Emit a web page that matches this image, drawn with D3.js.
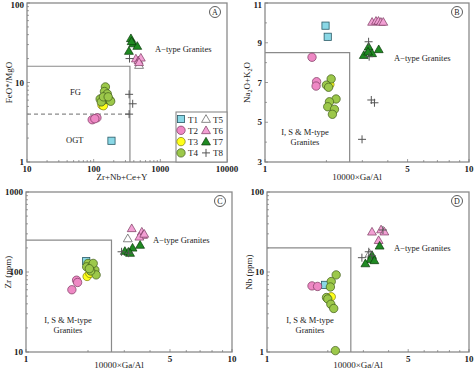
<!DOCTYPE html>
<html>
<head>
<meta charset="utf-8">
<script src="https://cdn.jsdelivr.net/npm/d3@7"></script>
<style>
  body { margin: 0; background: #fff; }
  svg text { font-family: "Liberation Serif", "DejaVu Serif", serif; fill: #222; }
</style>
</head>
<body>
<script>
// Panel A : Zr+Nb+Ce+Y vs FeO*/MgO
const A_T1 = [[185, 1.85]]
const A_T2 = [[95, 3.4], [112, 3.6], [104, 3.5]]
const A_T3 = [[133, 5.2], [140, 5.1]]
const A_T4 = [[150, 8.8], [145, 7.7], [160, 7.2], [125, 6.2], [148, 6.1], [175, 6.0], [130, 5.7], [180, 5.8], [140, 6.6], [165, 6.6]]
const A_T5 = [[480, 16.6]]
const A_T6 = [[430, 20], [470, 19], [510, 20.5], [480, 18]]
const A_T7 = [[362, 36], [393, 31], [451, 28.8], [338, 24.9], [371, 33]]
const A_T8 = [[345, 20], [340, 7.1], [385, 5.4], [340, 4.0]]

// Panel B : 10000*Ga/Al vs Na2O+K2O
const B_T1 = [[1.98, 9.86], [2.03, 9.3]]
const B_T2 = [[1.70, 8.27], [1.79, 7.04], [1.78, 6.82]]
const B_T3 = [[2.08, 6.9]]
const B_T4 = [[2.11, 7.18], [2.0, 6.87], [2.05, 6.76], [2.23, 6.17], [2.07, 6.03], [2.03, 5.78], [2.19, 5.65], [2.14, 5.4]]
const B_T5 = [[3.21, 8.57]]
const B_T6 = [[3.35, 10.05], [3.5, 10.1], [3.6, 10.1], [3.7, 10.05], [3.8, 10.05]]
const B_T7 = [[3.05, 8.38], [3.22, 8.8], [3.35, 8.47], [3.61, 8.67], [3.2, 8.55]]
const B_T8 = [[3.22, 9.05], [3.24, 8.3], [3.32, 6.12], [3.44, 5.98], [2.99, 4.14]]

// Panel C : 10000*Ga/Al vs Zr
const C_T1 = [[1.96, 137]]
const C_T2 = [[1.76, 79], [1.78, 74], [1.67, 60]]
const C_T3 = [[1.98, 88], [2.04, 96]]
const C_T4 = [[2.0, 128], [1.97, 116], [2.08, 116], [2.16, 106], [2.19, 92], [2.06, 103], [2.12, 128], [2.03, 110]]
const C_T5 = [[3.12, 263]]
const C_T6 = [[3.26, 352], [3.65, 319], [3.7, 290], [3.55, 276], [3.75, 300]]
const C_T7 = [[3.58, 218], [3.29, 201], [3.02, 183], [3.14, 179], [3.2, 173]]
const C_T8 = [[2.91, 179], [3.15, 172]]

// Panel D : 10000*Ga/Al vs Nb
const D_T1 = [[1.94, 6.9]]
const D_T2 = [[1.67, 6.7], [1.78, 6.6]]
const D_T3 = [[2.08, 4.9]]
const D_T4 = [[2.2, 9.2], [2.08, 7.6], [2.06, 6.5], [1.97, 4.8], [2.0, 4.6], [2.07, 3.95], [2.14, 3.5], [2.18, 1.04]]
const D_T5 = [[3.22, 17]]
const D_T6 = [[3.31, 31.9], [3.67, 34], [3.81, 32], [3.57, 25]]
const D_T7 = [[3.61, 21.3], [3.31, 16.3], [3.25, 14.5], [3.4, 14], [3.07, 12.8]]
const D_T8 = [[3.75, 33.5], [3.19, 17.9], [2.95, 15.1], [3.3, 16]]

const groups = ["T1", "T2", "T3", "T4", "T5", "T6", "T7", "T8"]

// styles des symboles
const styles = {
  T1: { shape: "square", fill: "#8ad8e6", stroke: "#2a5a66" },
  T2: { shape: "circle", fill: "#ee88c4", stroke: "#7a3a5e" },
  T3: { shape: "circle", fill: "#ffff1a", stroke: "#7a7a10" },
  T4: { shape: "circle", fill: "#9cc84a", stroke: "#3f5a1a" },
  T5: { shape: "triangle", fill: "#ffffff", stroke: "#555" },
  T6: { shape: "triangle", fill: "#f2a0d4", stroke: "#7a3a5e" },
  T7: { shape: "triangle", fill: "#1f8a22", stroke: "#0c3a0c" },
  T8: { shape: "plus", fill: "none", stroke: "#555" }
}

const svg = d3.select("body")
  .append("svg")
  .attr("width", 474)
  .attr("height", 371)

function drawSymbol(g, key, x, y) {
  const s = styles[key]
  if (s.shape === "circle") {
    g.append("circle").attr("cx", x).attr("cy", y).attr("r", 4.2)
      .attr("fill", s.fill).attr("stroke", s.stroke).attr("stroke-width", 0.7)
  } else if (s.shape === "square") {
    g.append("rect").attr("x", x - 3.6).attr("y", y - 3.6).attr("width", 7.2).attr("height", 7.2)
      .attr("fill", s.fill).attr("stroke", s.stroke).attr("stroke-width", 0.8)
  } else if (s.shape === "triangle") {
    g.append("path").attr("d", d3.symbol().type(d3.symbolTriangle).size(34)())
      .attr("transform", `translate(${x},${y + 0.8})`)
      .attr("fill", s.fill).attr("stroke", s.stroke).attr("stroke-width", 0.7)
  } else {
    g.append("path").attr("d", `M${x - 4},${y}H${x + 4}M${x},${y - 4}V${y + 4}`)
      .attr("stroke", s.stroke).attr("stroke-width", 1)
  }
}

function panel(cfg) {
  const g = svg.append("g")
  const x = d3.scaleLog().domain(cfg.xDomain).range([cfg.left, cfg.right])
  const y = (cfg.yLinear ? d3.scaleLinear() : d3.scaleLog()).domain(cfg.yDomain).range([cfg.bottom, cfg.top])

  // cadre
  g.append("rect")
    .attr("x", cfg.left).attr("y", cfg.top)
    .attr("width", cfg.right - cfg.left).attr("height", cfg.bottom - cfg.top)
    .attr("fill", "none").attr("stroke", "#8a8a8a").attr("stroke-width", 1.3)

  // ticks axe x (vers l'intérieur)
  x.ticks().forEach(t => {
    const major = cfg.xLabels.includes(t) || Math.abs(Math.log10(t) % 1) < 1e-9
    g.append("line").attr("x1", x(t)).attr("x2", x(t))
      .attr("y1", cfg.bottom).attr("y2", cfg.bottom - (major ? 3 : 2))
      .attr("stroke", "#777").attr("stroke-width", 0.7)
  })
  cfg.xLabels.forEach(t => {
    g.append("text").attr("x", x(t)).attr("y", cfg.bottom + 10)
      .attr("text-anchor", "middle").attr("font-size", 9).attr("font-weight", "bold").text(t)
  })

  // ticks axe y
  const yt = cfg.yLinear ? d3.range(cfg.yDomain[0], cfg.yDomain[1] + 1, 1) : y.ticks()
  yt.forEach(t => {
    const major = cfg.yLabels.includes(t)
    g.append("line").attr("y1", y(t)).attr("y2", y(t))
      .attr("x1", cfg.left).attr("x2", cfg.left + (major ? 3 : 2))
      .attr("stroke", "#777").attr("stroke-width", 0.7)
  })
  cfg.yLabels.forEach(t => {
    g.append("text").attr("x", cfg.left - 3).attr("y", Math.max(y(t) + 3, 8))
      .attr("text-anchor", "end").attr("font-size", 9).attr("font-weight", "bold").text(t)
  })

  // limites des champs
  g.append("path")
    .attr("d", `M${cfg.left},${y(cfg.boxY)}H${x(cfg.boxX)}V${cfg.bottom}`)
    .attr("fill", "none").attr("stroke", "#8a8a8a").attr("stroke-width", 1.2)
  if (cfg.dashY) {
    g.append("line").attr("x1", cfg.left).attr("x2", x(cfg.boxX))
      .attr("y1", y(cfg.dashY)).attr("y2", y(cfg.dashY))
      .attr("stroke", "#8a8a8a").attr("stroke-width", 1.1).attr("stroke-dasharray", "4,3")
  }

  // titres d'axes
  g.append("text").attr("x", (cfg.left + cfg.right) / 2 + cfg.xTitleDx).attr("y", Math.min(cfg.bottom + 18, 368))
    .attr("text-anchor", "middle").attr("font-size", 9).text(cfg.xTitle)
  const yTitle = g.append("text")
    .attr("transform", `translate(${cfg.left - 15},${(cfg.top + cfg.bottom) / 2}) rotate(-90)`)
    .attr("text-anchor", "middle").attr("font-size", 9)
  cfg.yTitle.forEach(part => {
    yTitle.append("tspan").attr("font-size", part.sub ? 6 : 9)
      .attr("dy", part.sub ? 2 : (part.after ? -2 : 0)).text(part.t)
  })

  // annotations
  cfg.notes.forEach(n => {
    g.append("text").attr("x", n.x).attr("y", n.y).attr("font-size", 8.5)
      .attr("text-anchor", n.anchor || "start").text(n.t)
  })

  // lettre du panneau
  g.append("circle").attr("cx", cfg.right - 12).attr("cy", cfg.top + 9).attr("r", 5.5)
    .attr("fill", "none").attr("stroke", "#333").attr("stroke-width", 0.8)
  g.append("text").attr("x", cfg.right - 12).attr("y", cfg.top + 12).attr("text-anchor", "middle")
    .attr("font-size", 8).text(cfg.letter)

  // points
  groups.forEach((k, i) => {
    cfg.data[i].forEach(d => drawSymbol(g, k, x(d[0]), y(d[1])))
  })
  return g
}

const gaTitle = "10000×Ga/Al"
const typeNotes = (ax, ay, ix, iy) => [
  { x: ax, y: ay, t: "A−type  Granites" },
  { x: ix, y: iy, t: "I, S & M-type", anchor: "middle" },
  { x: ix, y: iy + 10, t: "Granites", anchor: "middle" }
]

const gA = panel({
  left: 27, right: 227, top: 3, bottom: 162,
  xDomain: [10, 10000], yDomain: [1, 100],
  xLabels: [10, 100, 1000, 10000], yLabels: [1, 10, 100],
  boxX: 350, boxY: 16, dashY: 4,
  xTitle: "Zr+Nb+Ce+Y", xTitleDx: -5,
  yTitle: [{ t: "FeO*/MgO" }],
  notes: [{ x: 155, y: 52, t: "A−type  Granites" }, { x: 70, y: 95, t: "FG" }, { x: 66, y: 143, t: "OGT" }],
  letter: "A",
  data: [A_T1, A_T2, A_T3, A_T4, A_T5, A_T6, A_T7, A_T8]
})

// légende
gA.append("rect").attr("x", 176).attr("y", 112).attr("width", 51).attr("height", 50)
  .attr("fill", "#fff").attr("stroke", "#8a8a8a").attr("stroke-width", 1.1)
groups.forEach((k, i) => {
  const col = Math.floor(i / 4), row = i % 4
  const sx = 181 + col * 25, sy = 119 + row * 11.3
  drawSymbol(gA, k, sx, sy)
  gA.append("text").attr("x", sx + 7).attr("y", sy + 3.5).attr("font-size", 9).text(k)
})

panel({
  left: 265, right: 469, top: 3, bottom: 162,
  xDomain: [1, 10], yDomain: [3, 11], yLinear: true,
  xLabels: [1, 5, 10], yLabels: [3, 5, 7, 9, 11],
  boxX: 2.6, boxY: 8.5,
  xTitle: gaTitle, xTitleDx: -10,
  yTitle: [{ t: "Na" }, { t: "2", sub: true }, { t: "O+K", after: true }, { t: "2", sub: true }, { t: "O", after: true }],
  notes: typeNotes(394, 61, 305, 135),
  letter: "B",
  data: [B_T1, B_T2, B_T3, B_T4, B_T5, B_T6, B_T7, B_T8]
})

panel({
  left: 26, right: 232, top: 192, bottom: 352,
  xDomain: [1, 10], yDomain: [10, 1000],
  xLabels: [1, 5, 10], yLabels: [10, 100, 1000],
  boxX: 2.6, boxY: 250,
  xTitle: gaTitle, xTitleDx: -10,
  yTitle: [{ t: "Zr (ppm)" }],
  notes: typeNotes(153, 243, 68, 323),
  letter: "C",
  data: [C_T1, C_T2, C_T3, C_T4, C_T5, C_T6, C_T7, C_T8]
})

panel({
  left: 267, right: 469, top: 192, bottom: 352,
  xDomain: [1, 10], yDomain: [1, 100],
  xLabels: [1, 5, 10], yLabels: [1, 10, 100],
  boxX: 2.6, boxY: 20,
  xTitle: gaTitle, xTitleDx: -10,
  yTitle: [{ t: "Nb (ppm)" }],
  notes: typeNotes(394, 251, 310, 323),
  letter: "D",
  data: [D_T1, D_T2, D_T3, D_T4, D_T5, D_T6, D_T7, D_T8]
})
</script>
</body>
</html>
